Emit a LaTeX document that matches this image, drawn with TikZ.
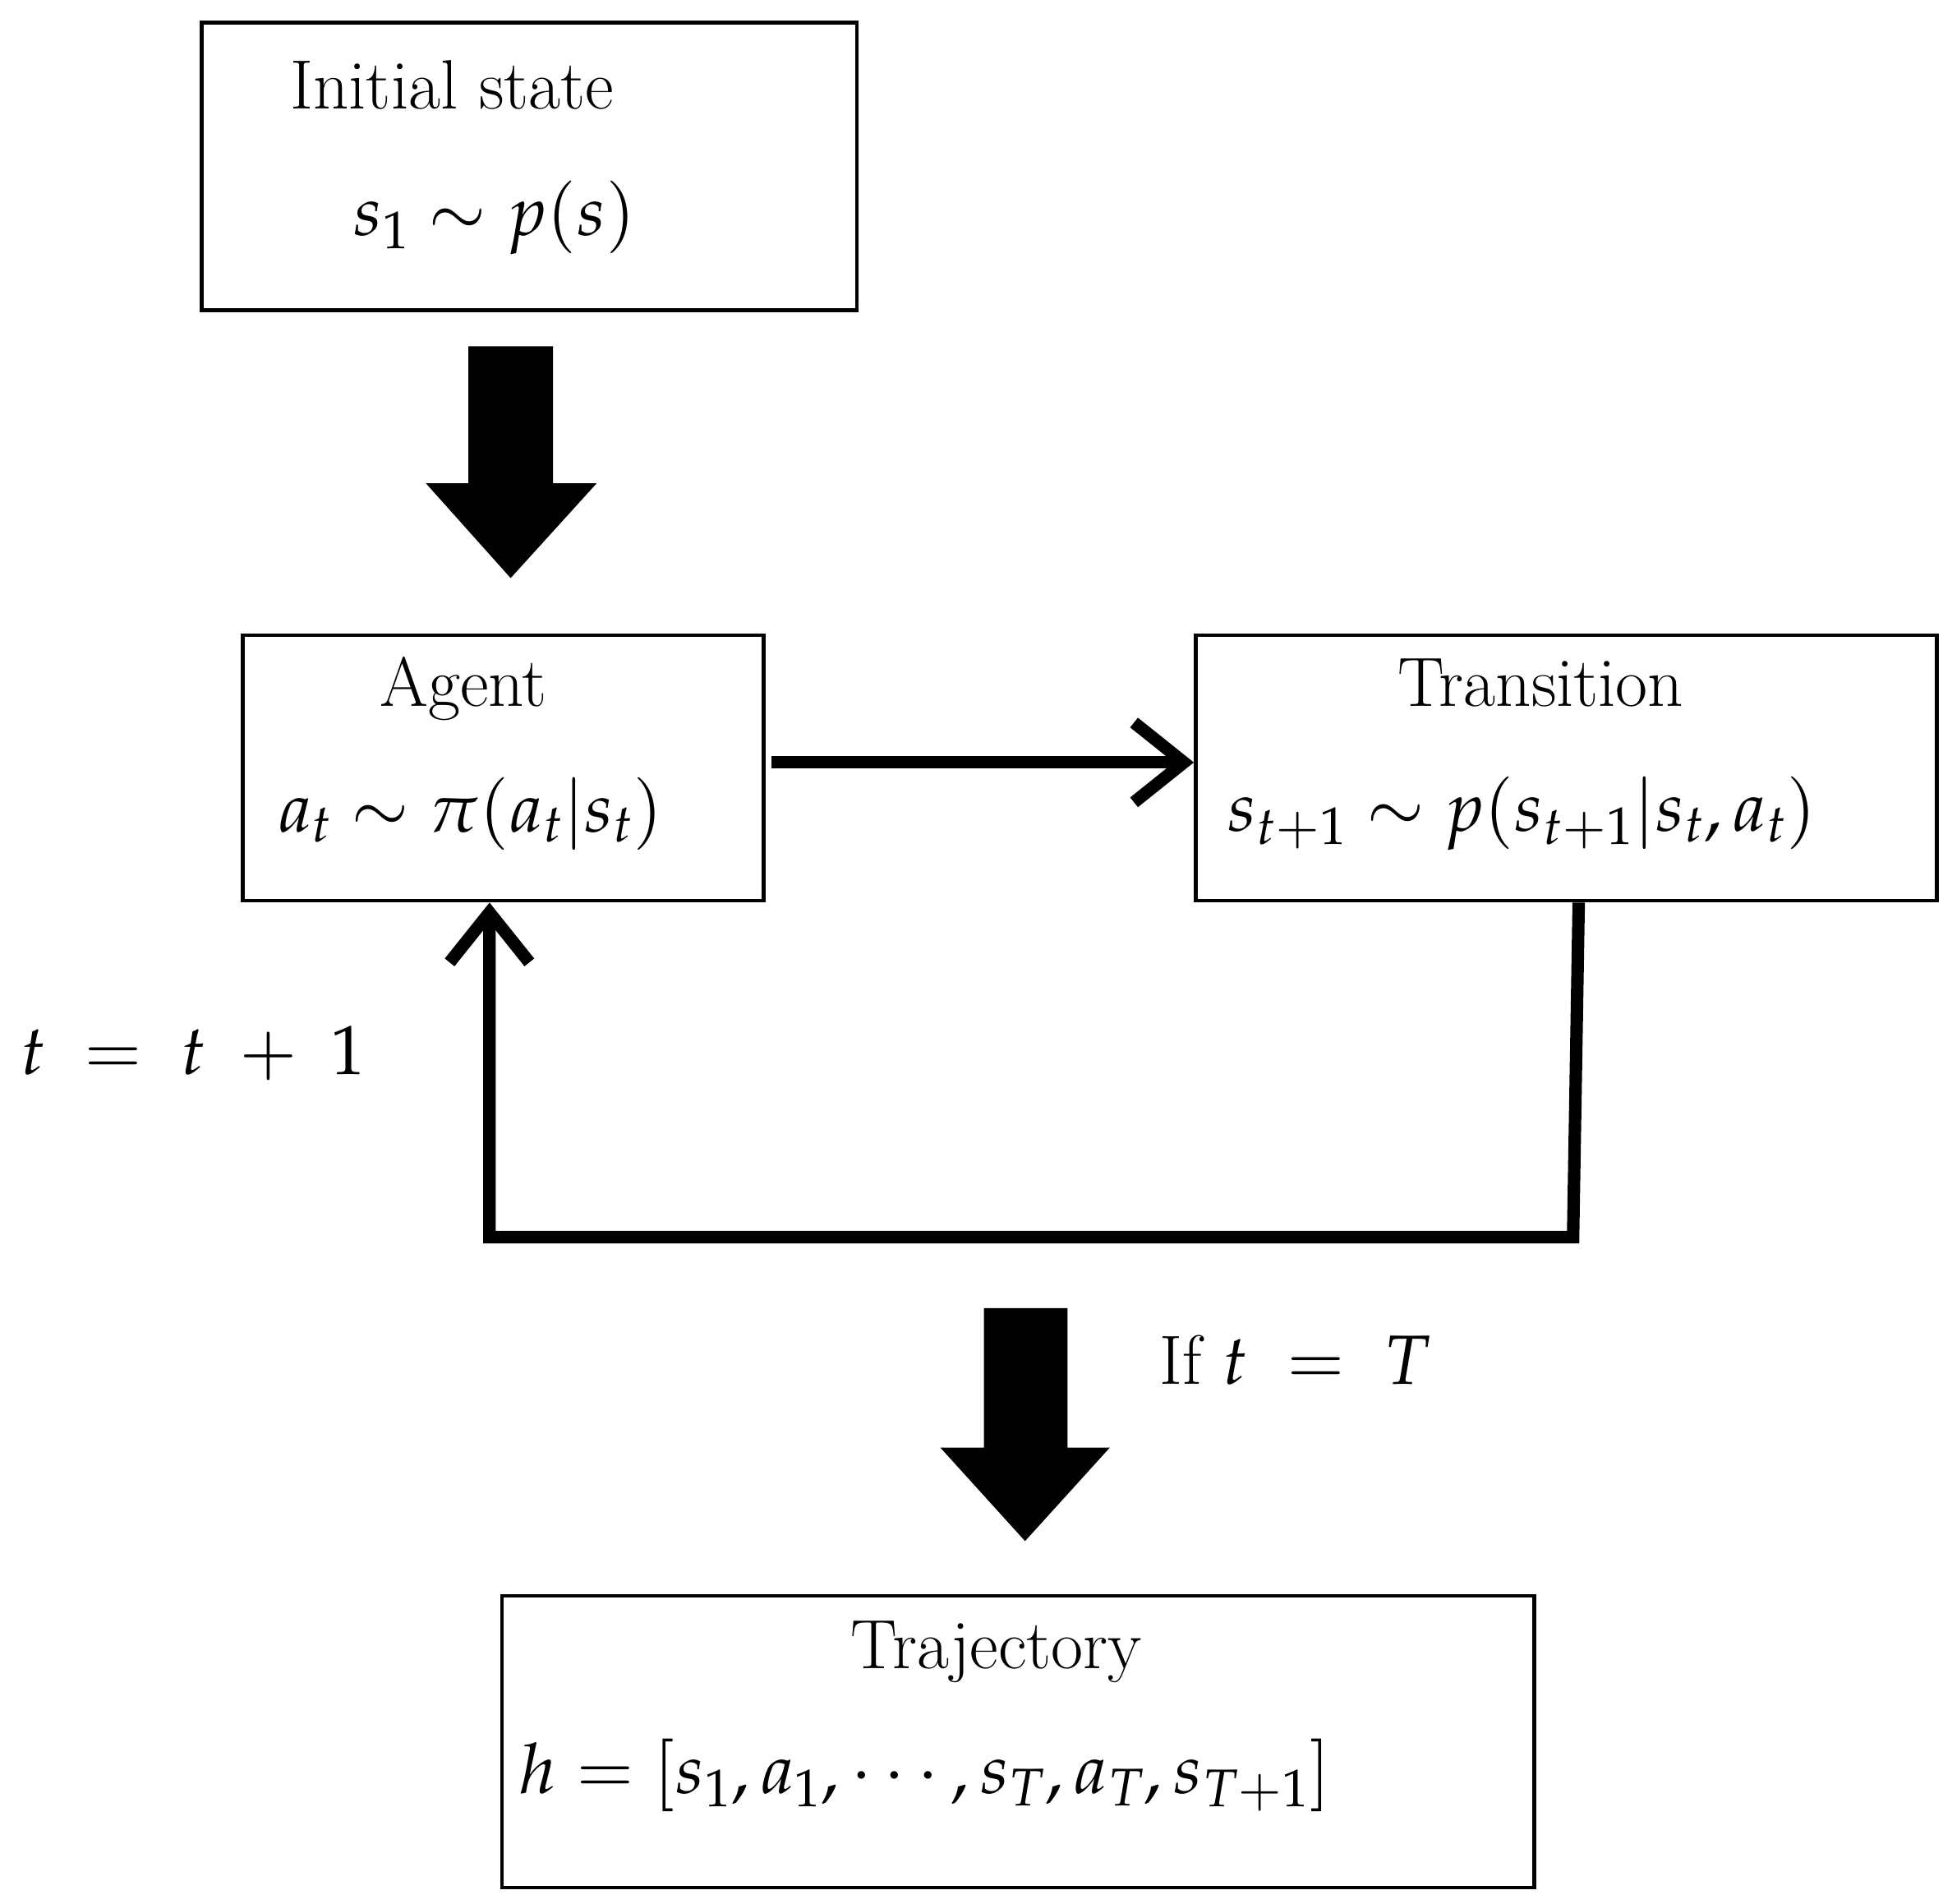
\documentclass[tikz,border=0pt]{standalone}
\usepackage{mathpazo}
\usetikzlibrary{arrows.meta}
\tikzset{
    x={1pt},
    y={-1pt},
    box/.style={
        draw, line width={3pt},
        inner sep=0pt,
    },
    box title/.style={
        font={\fontsize{56}{64}\selectfont\bfseries},
        inner sep=0pt,
    },
    box formula/.style={
        font={\fontsize{56}{64}\selectfont},
        inner sep=0pt,
    },
    flow/.style={
        line width={10pt},
        -{Straight Barb[length=40pt,width=64pt,line width=10pt]},
    },
    block arrow/.style={
        fill=black,
    },
}
\begin{document}
\begin{tikzpicture}
\useasboundingbox (0,0) rectangle (1560,1528);
% boxes
\node[box, minimum width=526pt, minimum height=231pt] (initial) at (425,133.5) {};
\node[box, minimum width=418pt, minimum height=213pt] (agent) at (404,616.5) {};
\node[box, minimum width=595pt, minimum height=213pt] (transition) at (1257.5,616.5) {};
\node[box, minimum width=829pt, minimum height=234pt] (trajectory) at (817.5,1398) {};
% texts
\node[box title] (initial title) at (363,68) {Initial state};
\node[box formula] (initial formula) at (397,175) {$s_1 \sim p(s)$};
\node[box title] (agent title) at (372,553) {Agent};
\node[box formula] (agent formula) at (378,653) {$a_t \sim \pi(a_t|s_t)$};
\node[box title] (transition title) at (1237,548) {Transition};
\node[box formula] (transition formula) at (1222,653) {$s_{t+1} \sim p(s_{t+1}|s_t,a_t)$};
\node[box title] (trajectory title) at (800,1326) {Trajectory};
\node[box formula] (trajectory formula) at (743,1425) {$h = [s_1,a_1,\cdots,s_T,a_T,s_{T+1}]$};
\node[box formula] (loop label) at (155,845) {$t\;=\;t\;+\;1$};
\node[box formula] (stop label) at (1040,1092) {If $t\;=\;T$};
% block arrows
\fill[block arrow] (376,278) -- (444,278) -- (444,388) -- (479,388) -- (410,464)
    -- (342,388) -- (376,388) -- cycle;
\fill[block arrow] (790,1050) -- (857,1050) -- (857,1162) -- (891,1162) -- (823,1237)
    -- (755,1162) -- (790,1162) -- cycle;
% connectors
\coordinate (corner right) at (1263,993);
\coordinate (corner left) at (393,993);
\draw[flow] (agent.east |- 0,612) ++(5,0) -- (transition.west |- 0,612);
\draw[flow] ([xshift=10pt]transition.south) -- (corner right) -- (corner left)
    -- ([xshift=-11pt]agent.south);
\end{tikzpicture}
\end{document}
